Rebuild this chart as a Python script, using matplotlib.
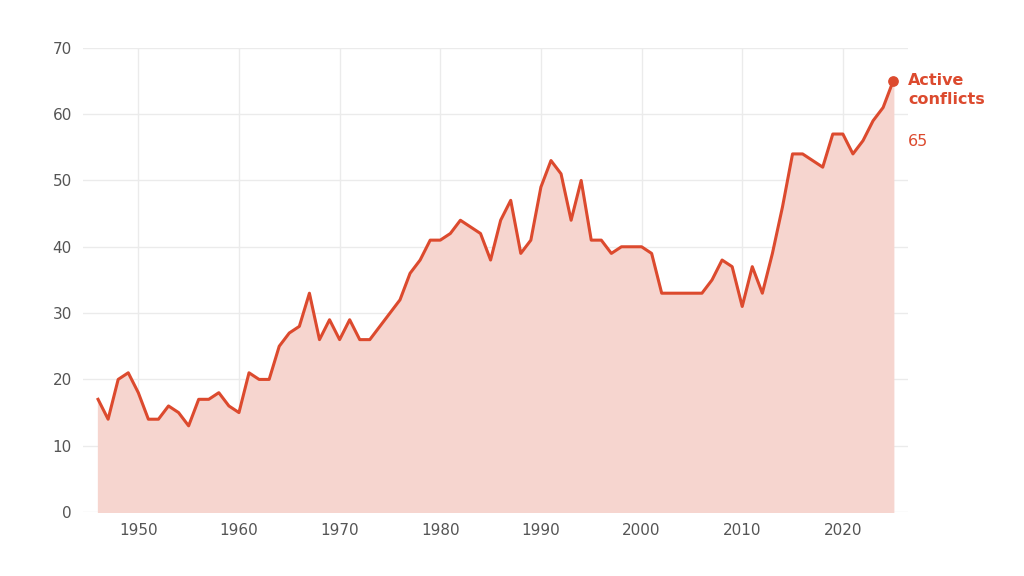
import matplotlib.pyplot as plt

years = list(range(1946, 2026))
conflicts = [17, 14, 20, 21, 18, 14, 14, 16, 15, 13,
             17, 17, 18, 16, 15, 21, 20, 20, 25, 27,
             28, 33, 26, 29, 26, 29, 26, 26, 28, 30,
             32, 36, 38, 41, 41, 42, 44, 43, 42, 38,
             44, 47, 39, 41, 49, 53, 51, 44, 50, 41,
             41, 39, 40, 40, 40, 39, 33, 33, 33, 33,
             33, 35, 38, 37, 31, 37, 33, 39, 46, 54,
             54, 53, 52, 57, 57, 54, 56, 59, 61, 65]

red = '#dc4a2e'
fig = plt.figure(figsize=(10.24, 5.76), dpi=100)
ax = fig.add_axes([0.081, 0.111, 0.806, 0.806])

ax.fill_between(years, conflicts, color='#f6d5cf', zorder=1)
ax.plot(years, conflicts, color=red, linewidth=2.2, zorder=3)
ax.scatter([years[-1]], [conflicts[-1]], color=red, s=45, zorder=4)

ax.set_xlim(1944.5, 2026.5)
ax.set_ylim(0, 70)
ax.set_yticks(range(0, 71, 10))
ax.set_xticks(range(1950, 2021, 10))
ax.grid(True, color='#ebebeb', linewidth=1)
ax.set_axisbelow(True)
for s in ax.spines.values():
    s.set_visible(False)
ax.tick_params(length=0, labelsize=11, colors='#555555', pad=8)

ax.text(2026.5, 65, 'Active\nconflicts', color=red, fontsize=11.5, fontweight='bold',
        va='top', ha='left', linespacing=1.3, clip_on=False, transform=ax.transData)
ax.annotate('65', (2026.5, 65), xytext=(0, -38), textcoords='offset points',
            color=red, fontsize=11.5, va='top', ha='left', annotation_clip=False)
# nudge bold label so first line centers on marker
for t in ax.texts[:1]:
    t.set_position((2026.5, 66.2))

fig.savefig('out.png', dpi=100)
